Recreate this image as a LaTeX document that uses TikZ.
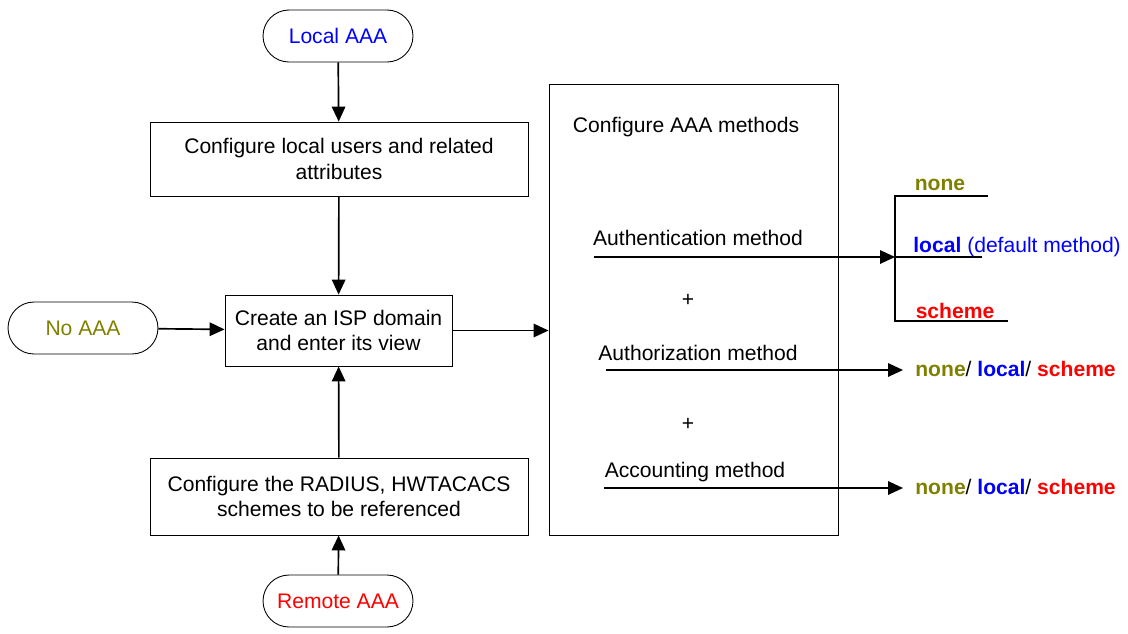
\documentclass[tikz,border=0pt]{standalone}
\usepackage{fontspec}
\setmainfont{Liberation Sans}
\definecolor{Olive}{RGB}{128,128,0}
\definecolor{Blue}{RGB}{0,0,255}
\definecolor{Red}{RGB}{255,0,0}
\usetikzlibrary{arrows.meta}

\begin{document}
\begin{tikzpicture}[x=0.02cm,y=-0.02cm,
	every node/.style={font=\fontsize{12}{14.5}\selectfont},
	terminal/.style={draw, line width=0.5pt, rounded corners=0.52cm, minimum width=3cm, minimum height=1.04cm, inner sep=0pt},
	stepbox/.style={draw, line width=0.5pt, align=center, inner sep=0pt},
	flow/.style={-{Triangle[length=0.3cm,width=0.27cm]}, line width=0.95pt}]
\useasboundingbox (0,0) rectangle (1128,633);

	% left column
	\node[terminal, text=Blue] at (338,36) (localaaa) {Local AAA};
	\node[stepbox, minimum width=7.56cm, minimum height=1.48cm] at (339,159) (cfgusers) {Configure local users and related\\attributes};
	\node[stepbox, minimum width=4.54cm, minimum height=1.42cm] at (338.5,330.5) (ispdomain) {Create an ISP domain\\and enter its view};
	\node[terminal, text=Olive] at (83,328) (noaaa) {No AAA};
	\node[stepbox, minimum width=7.56cm, minimum height=1.54cm] at (339,496.5) (cfgschemes) {Configure the RADIUS, HWTACACS\\schemes to be referenced};
	\node[terminal, text=Red] at (338,601) (remoteaaa) {Remote AAA};

	\draw[flow] (localaaa) -- (cfgusers);
	\draw[flow] (cfgusers) -- (ispdomain);
	\draw[flow] (noaaa) -- (ispdomain);
	\draw[flow] (remoteaaa) -- (cfgschemes);
	\draw[flow] (cfgschemes) -- (ispdomain);

	% methods box
	\node[draw, line width=0.5pt, minimum width=5.78cm, minimum height=9.02cm, inner sep=0pt] at (693.5,309.5) (methods) {};
	\draw[flow] (ispdomain) -- (ispdomain -| methods.west);
	\node at (686,127) (methtitle) {Configure AAA methods};

	\node at (698,238) (authen) {Authentication method};
	\node at (688,300) (plusa) {+};
	\node at (698,353) (author) {Authorization method};
	\node at (688,424) (plusb) {+};
	\node at (695,472) (acct) {Accounting method};

	\coordinate (authenstart) at (594,257);
	\coordinate (authenend) at (895,257);
	\coordinate (authorstart) at (606,370);
	\coordinate (authorend) at (903,370);
	\coordinate (acctstart) at (604,488);
	\coordinate (acctend) at (903,488);

	\draw[flow] (authenstart) -- (authenend);
	\draw[flow] (authorstart) -- (authorend);
	\draw[flow] (acctstart) -- (acctend);

	% choice bracket
	\draw[line width=0.95pt] (988,196) -- (895,196) -- (895,321) -- (1008,321);
	\draw[line width=0.95pt] (authenend) -- (982,257);
	\node[text=Olive, font=\fontsize{12}{14.5}\selectfont\bfseries] at (940,185) (bnone) {none};
	\node[text=Blue, anchor=west, inner sep=0pt] at (913,247) (blocal) {\textbf{local} (default method)};
	\node[text=Red, font=\fontsize{12}{14.5}\selectfont\bfseries] at (955,311) (bscheme) {scheme};

	\node[anchor=west, inner sep=0pt, font=\fontsize{12}{14.5}\selectfont\bfseries] at (915,369) (authorlist) {\textcolor{Olive}{none}\mdseries/ \textcolor{Blue}{\bfseries local}\mdseries/ \textcolor{Red}{\bfseries scheme}};
	\node[anchor=west, inner sep=0pt, font=\fontsize{12}{14.5}\selectfont\bfseries] at (915,487) (acctlist) {\textcolor{Olive}{none}\mdseries/ \textcolor{Blue}{\bfseries local}\mdseries/ \textcolor{Red}{\bfseries scheme}};
\end{tikzpicture}
\end{document}
